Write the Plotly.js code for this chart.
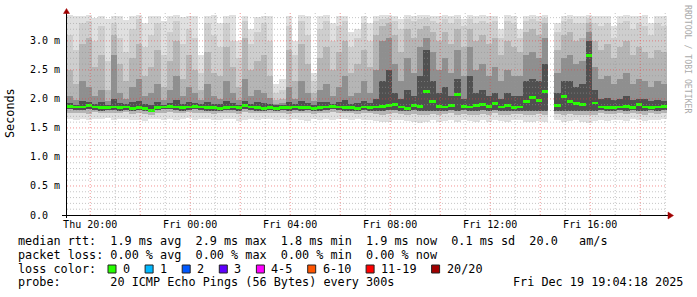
<!DOCTYPE html>
<html><head><meta charset="utf-8">
<script src="https://cdn.plot.ly/plotly-3.0.1.min.js"></script>
<style>html,body{margin:0;padding:0;background:#fff}#chart{width:697px;height:297px}</style>
</head><body><div id="chart"></div>
<script>
// ---- data (values in milliseconds) ----
const startTime = '2025-12-18T19:04:18Z';
const endTime = '2025-12-19T19:04:18Z';
const stepMinutes = 15;

const maxRtt = [3.44,3.43,3.42,3.44,3.40,3.43,3.38,3.42, 3.43,3.36,3.42,3.44,3.30,3.42,3.43,3.35,
 3.42,3.44,3.41,3.43,3.42,2.75,3.43,3.44, 3.30,3.43,3.44,3.00,3.42,3.20,3.41,3.43,
 3.42,2.25,2.35,3.43,3.00,3.44,3.42,2.45, 3.43,3.44,3.30,3.43,3.42,3.15,3.20,3.43,
 3.30,3.43,3.44,3.44,3.43,3.38,3.44,3.43, 3.44,3.44,3.43,3.42,3.44,3.43,3.44,3.38,
 3.44,3.43,3.44,3.42,3.43,3.20,3.44,3.43, 3.20,3.43,3.44,3.43,3.44,null,3.30,3.43,
 3.44,3.43,3.42,3.44,3.43,3.42,3.43,3.25, 3.43,3.44,3.42,3.43,3.44,3.30,3.43,3.42];
const upper2 = [3.10,2.85,3.30,3.35,3.00,3.25,2.65,3.30, 3.05,2.80,3.20,3.38,2.90,3.10,3.30,2.75,
 3.15,3.35,2.95,3.20,3.05,2.45,3.30,3.10, 2.90,3.30,3.00,2.70,3.35,2.95,3.15,3.30,
 3.00,2.10,2.15,3.25,2.75,3.35,3.10,2.30, 3.20,3.35,3.00,3.25,3.35,2.90,3.05,3.30,
 3.00,3.35,3.38,3.40,3.35,3.20,3.38,3.35, 3.38,3.40,3.35,3.30,3.38,3.30,3.38,3.25,
 3.38,3.30,3.35,3.30,3.35,3.05,3.35,3.30, 3.05,3.35,3.38,3.35,3.40,null,3.15,3.35,
 3.38,3.30,3.30,3.40,3.30,3.25,3.30,3.05, 3.30,3.35,3.20,3.30,3.25,3.10,3.30,3.25];
const upper3 = [2.50,2.25,2.95,3.05,2.55,2.75,2.15,3.10, 2.60,2.30,2.70,2.95,2.40,2.55,2.85,2.20,
 2.65,3.00,2.35,2.75,2.50,2.15,2.80,2.45, 2.40,2.90,2.55,2.20,3.05,2.50,2.65,2.75,
 2.40,1.98,2.00,2.85,2.30,2.95,2.60,2.10, 2.70,2.90,2.50,2.80,3.00,2.45,2.60,2.85,
 2.55,3.10,3.25,3.30,3.10,2.80,3.20,3.05, 3.20,3.25,3.15,3.00,3.15,2.95,3.20,2.90,
 3.20,3.00,3.10,2.95,3.05,2.75,3.00,2.90, 2.80,3.15,3.20,3.10,3.30,null,2.85,3.10,
 3.15,3.00,3.05,3.30,3.00,2.85,2.95,2.70, 2.90,3.00,2.75,2.90,2.80,2.70,2.85,2.80];
const upper4 = [2.05,1.98,2.30,2.20,2.05,2.15,1.96,2.75, 2.10,2.00,2.20,2.35,2.05,2.10,2.25,1.98,
 2.15,2.40,2.05,2.20,2.10,1.98,2.25,2.05, 2.00,2.30,2.10,1.98,2.35,2.05,2.15,2.10,
 2.02,1.92,1.93,2.20,2.00,2.30,2.10,1.96, 2.15,2.25,2.05,2.20,2.40,2.05,2.10,2.30,
 2.10,2.50,3.00,3.05,2.60,2.30,2.70,2.45, 2.90,3.05,2.80,2.50,2.70,2.45,2.85,2.40,
 2.90,2.50,2.60,2.40,2.55,2.30,2.50,2.40, 2.40,2.75,2.80,2.70,3.05,null,2.45,2.70,
 2.75,2.60,2.65,3.15,2.55,2.35,2.40,2.25, 2.35,2.45,2.25,2.35,2.30,2.20,2.30,2.25];
const upper5 = [1.93,1.90,1.96,1.94,1.92,1.95,1.90,2.00, 1.93,1.91,1.95,1.97,1.92,1.90,1.94,1.90,
 1.93,1.98,1.92,1.95,1.93,1.91,1.95,1.92, 1.91,1.96,1.93,1.90,1.97,1.92,1.94,1.93,
 1.91,1.89,1.89,1.94,1.91,1.96,1.93,1.90, 1.94,1.95,1.92,1.95,1.98,1.92,1.93,1.96,
 1.93,2.00,2.30,2.50,2.10,2.00,2.15,2.05, 2.40,2.85,2.30,2.10,2.20,2.05,2.35,2.00,
 2.40,2.10,2.15,2.05,2.10,2.00,2.10,2.05, 2.05,2.30,2.35,2.30,2.60,null,2.10,2.30,
 2.30,2.20,2.25,3.00,2.15,2.00,2.02,1.98, 2.00,2.05,1.98,2.00,1.99,1.96,1.98,1.97];
const medianRtt = [1.87,1.86,1.86,1.88,1.86,1.85,1.85,1.86, 1.85,1.86,1.84,1.85,1.84,1.80,1.85,1.86,
 1.87,1.86,1.85,1.86,1.87,1.86,1.85,1.85, 1.84,1.85,1.86,1.85,1.88,1.86,1.85,1.84,
 1.85,1.84,1.85,1.85,1.86,1.85,1.85,1.84, 1.85,1.86,1.87,1.86,1.85,1.85,1.84,1.86,
 1.85,1.86,1.87,1.88,1.90,1.86,1.84,1.88, 1.87,2.12,1.95,1.87,1.86,1.88,2.08,1.87,
 1.86,1.88,1.90,1.87,1.92,1.86,1.88,1.85, 1.86,1.95,2.02,1.98,2.12,null,1.88,2.04,
 1.95,1.92,1.90,2.75,1.93,1.86,1.85,1.85, 1.86,1.87,1.85,1.90,1.86,1.85,1.86,1.87];
const lower5 = [1.82,1.81,1.81,1.82,1.81,1.80,1.81,1.81, 1.80,1.81,1.80,1.81,1.80,1.77,1.81,1.82,
 1.82,1.81,1.80,1.81,1.82,1.81,1.80,1.80, 1.80,1.81,1.81,1.80,1.82,1.81,1.80,1.80,
 1.81,1.80,1.81,1.80,1.81,1.80,1.81,1.80, 1.80,1.81,1.82,1.81,1.80,1.80,1.80,1.81,
 1.80,1.80,1.80,1.81,1.81,1.80,1.79,1.81, 1.80,1.80,1.79,1.80,1.80,1.81,1.80,1.81,
 1.80,1.80,1.81,1.80,1.81,1.80,1.80,1.80, 1.80,1.80,1.79,1.80,1.80,null,1.80,1.80,
 1.80,1.80,1.79,1.79,1.80,1.81,1.80,1.80, 1.81,1.80,1.81,1.80,1.80,1.81,1.80,1.81];
const lower3 = [1.76,1.75,1.76,1.74,1.77,1.75,1.76,1.75, 1.76,1.77,1.74,1.75,1.74,1.72,1.75,1.76,
 1.77,1.75,1.76,1.77,1.75,1.76,1.75,1.74, 1.75,1.76,1.76,1.74,1.77,1.75,1.76,1.75,
 1.76,1.75,1.76,1.74,1.76,1.75,1.75,1.74, 1.75,1.76,1.77,1.75,1.76,1.75,1.74,1.76,
 1.75,1.74,1.73,1.74,1.75,1.74,1.73,1.74, 1.72,1.73,1.74,1.73,1.74,1.75,1.73,1.74,
 1.73,1.72,1.74,1.73,1.75,1.73,1.72,1.74, 1.74,1.73,1.72,1.74,1.73,null,1.74,1.73,
 1.74,1.73,1.72,1.72,1.73,1.75,1.74,1.74, 1.75,1.74,1.76,1.74,1.73,1.75,1.74,1.75];
const minRtt = [1.66,1.64,1.65,1.63,1.66,1.65,1.67,1.64, 1.65,1.66,1.63,1.64,1.62,1.66,1.65,1.64,
 1.66,1.63,1.65,1.67,1.64,1.66,1.65,1.63, 1.64,1.66,1.65,1.62,1.64,1.66,1.63,1.65,
 1.66,1.64,1.65,1.63,1.66,1.64,1.62,1.65, 1.64,1.66,1.63,1.65,1.66,1.64,1.65,1.63,
 1.64,1.62,1.60,1.61,1.63,1.64,1.62,1.60, 1.59,1.61,1.63,1.60,1.62,1.64,1.60,1.63,
 1.62,1.60,1.63,1.61,1.64,1.62,1.60,1.63, 1.64,1.61,1.60,1.62,1.60,null,1.63,1.61,
 1.62,1.63,1.60,1.59,1.62,1.64,1.62,1.63, 1.64,1.62,1.65,1.63,1.62,1.64,1.63,1.65];

const yTickVals = [0, 0.5, 1.0, 1.5, 2.0, 2.5, 3.0];
const yTickText = ['0.0  ', '0.5 m', '1.0 m', '1.5 m', '2.0 m', '2.5 m', '3.0 m'];
const lossLabels = ['0', '1', '2', '3', '4-5', '6-10', '11-19', '20/20'];
const lossColors = ['#26ff00', '#00b8ff', '#0059ff', '#5e00ff', '#ff00ff', '#ff5500', '#ff0000', '#a10000'];
const legendLines = [
  'median rtt:  1.9 ms avg  2.9 ms max  1.8 ms min  1.9 ms now  0.1 ms sd  20.0   am/s',
  'packet loss: 0.00 % avg  0.00 % max  0.00 % min  0.00 % now',
  'loss color:',
  'probe:       20 ICMP Echo Pings (56 Bytes) every 300s'
];
const stampText = 'Fri Dec 19 19:04:18 2025';

// ---- build ----
const MONO = 'DejaVu Sans Mono, monospace';
const stepMs = stepMinutes * 60000;
const t0 = Date.parse(startTime);
const xs = maxRtt.map((_, k) => t0 + (k + 0.5) * stepMs);
const nb = s => s.replace(/ /g, '\u00a0');

const bands = [
  {hi: maxRtt, lo: minRtt, color: '#e0e0e0'},
  {hi: upper2, lo: lower3, color: '#cecece'},
  {hi: upper3, lo: lower3, color: '#b5b5b5'},
  {hi: upper4, lo: lower5, color: '#8f8f8f'},
  {hi: upper5, lo: lower5, color: '#505050'}
];
const traces = bands.map(b => ({
  type: 'bar', x: xs, base: b.lo,
  y: b.hi.map((v, i) => (v == null || b.lo[i] == null) ? null : v - b.lo[i]),
  width: stepMs * 1.01, marker: {color: b.color, line: {width: 0}},
  hoverinfo: 'skip', showlegend: false
}));
const medH = 0.05;
traces.push({
  type: 'bar', x: xs, base: medianRtt.map(v => v == null ? null : v - medH / 2),
  y: medianRtt.map(v => v == null ? null : medH),
  width: stepMs * 1.01, marker: {color: lossColors[0], line: {width: 0}},
  hoverinfo: 'skip', showlegend: false
});

// plot frame in pixels
const L = 67, R = 667, T = 13, B = 215, W = 697, H = 297;
const px = x => (x - L) / (R - L);
const py = y => (B - y) / (B - T);

const shapes = [];
const yTop = 3.48;
for (let i = 1; i * 0.1 < yTop; i++) {
  const major = i % 5 === 0;
  shapes.push({type: 'line', layer: 'above', xref: 'paper', yref: 'y', x0: 0, x1: 1, y0: i / 10, y1: i / 10,
    line: {color: major ? 'rgba(235,60,60,0.55)' : 'rgba(150,150,150,0.55)', width: 1, dash: '1px,2px'}});
}
const hourMs = 3600000;
const firstHour = Math.ceil(t0 / hourMs) * hourMs;
const tEnd = Date.parse(endTime);
for (let t = firstHour; t < tEnd; t += hourMs) {
  const h = new Date(t).getUTCHours();
  const major = h % 2 === 0;
  shapes.push({type: 'line', layer: 'above', xref: 'x', yref: 'paper', x0: t, x1: t, y0: 0, y1: 1,
    line: {color: major ? 'rgba(235,60,60,0.55)' : 'rgba(150,150,150,0.55)', width: 1, dash: '1px,2px'}});
}
shapes.push({type: 'line', layer: 'above', xref: 'paper', yref: 'paper', x0: px(62), x1: px(669), y0: py(215.5), y1: py(215.5), line: {color: '#000', width: 1}});
shapes.push({type: 'line', layer: 'above', xref: 'paper', yref: 'paper', x0: px(66.5), x1: px(66.5), y0: py(218), y1: py(12), line: {color: '#000', width: 1}});
shapes.push({type: 'path', layer: 'above', xref: 'paper', yref: 'paper',
  path: `M ${px(668)} ${py(212)} L ${px(673.5)} ${py(215.5)} L ${px(668)} ${py(219)} Z`,
  fillcolor: '#a00000', line: {color: '#a00000', width: 0.5}});
shapes.push({type: 'path', layer: 'above', xref: 'paper', yref: 'paper',
  path: `M ${px(63.5)} ${py(13.5)} L ${px(66.5)} ${py(8.5)} L ${px(69.5)} ${py(13.5)} Z`,
  fillcolor: '#a00000', line: {color: '#a00000', width: 0.5}});

const annotations = [];
const FS = 11.8, CW = 7.1;
const lineY = [241, 255, 269, 282];
legendLines.forEach((s, i) => {
  annotations.push({xref: 'paper', yref: 'paper', x: px(16), y: py(lineY[i]), xanchor: 'left', yanchor: 'middle',
    text: nb(s), showarrow: false, font: {family: MONO, size: FS, color: '#000'}});
});
annotations.push({xref: 'paper', yref: 'paper', x: px(511), y: py(lineY[3]), xanchor: 'left', yanchor: 'middle',
  text: nb(stampText), showarrow: false, font: {family: MONO, size: FS, color: '#000'}});
let bx = 108;
lossLabels.forEach((lab, i) => {
  shapes.push({type: 'rect', xref: 'paper', yref: 'paper', x0: px(bx), x1: px(bx + 8), y0: py(lineY[2] - 4), y1: py(lineY[2] + 4),
    fillcolor: lossColors[i], line: {color: '#222', width: 1}});
  annotations.push({xref: 'paper', yref: 'paper', x: px(bx + 13), y: py(lineY[2]), xanchor: 'left', yanchor: 'middle',
    text: nb(lab), showarrow: false, font: {family: MONO, size: FS, color: '#000'}});
  bx += 30 + CW * lab.length;
});
annotations.push({xref: 'paper', yref: 'paper', x: px(10), y: py(113), xanchor: 'center', yanchor: 'middle',
  text: 'Seconds', textangle: -90, showarrow: false, font: {family: MONO, size: FS, color: '#000'}});
annotations.push({xref: 'paper', yref: 'paper', x: px(688), y: py(59), xanchor: 'center', yanchor: 'middle',
  text: nb('RRDTOOL / TOBI OETIKER'), textangle: 90, showarrow: false, font: {family: MONO, size: 8.2, color: '#aaaaaa'}});

const layout = {
  width: W, height: H,
  margin: {l: L, r: W - R, t: T, b: H - B, pad: 0},
  paper_bgcolor: '#fff', plot_bgcolor: '#fff',
  barmode: 'overlay', bargap: 0, showlegend: false,
  font: {family: MONO, size: 10, color: '#000'},
  xaxis: {type: 'date', range: [startTime.replace('T', ' ').replace('Z', ''), endTime.replace('T', ' ').replace('Z', '')],
    tick0: '2025-12-18 20:00:00', dtick: 4 * 3600000, tickformat: '%a %H:%M',
    showgrid: false, zeroline: false, showline: false, ticks: '', ticklabelstandoff: 2,
    tickfont: {family: MONO, size: 10, color: '#000'}, fixedrange: true},
  yaxis: {range: [0, yTop], tickmode: 'array', tickvals: yTickVals, ticktext: yTickText.map(nb),
    showgrid: false, zeroline: false, showline: false, ticks: '', ticklabelstandoff: 6,
    tickfont: {family: MONO, size: 10, color: '#000'}, fixedrange: true},
  shapes: shapes, annotations: annotations
};
Plotly.newPlot('chart', traces, layout, {displayModeBar: false, staticPlot: true});
</script>
</body></html>
